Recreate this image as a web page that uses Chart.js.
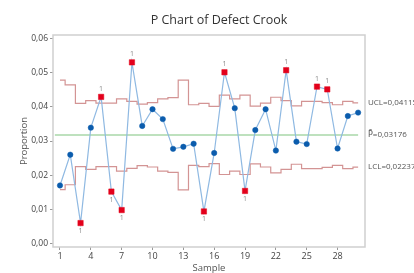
<!DOCTYPE html>
<html>
<head>
<meta charset="utf-8">
<script src="https://cdn.jsdelivr.net/npm/chart.js@4.4.1/dist/chart.umd.min.js"></script>
<style>
html,body{margin:0;padding:0;background:#fff;}
#wrap{width:414px;height:273px;}
</style>
</head>
<body>
<div id="wrap"><canvas id="c" width="414" height="273"></canvas></div>
<script>
// ---- data ----
const samples = [1,2,3,4,5,6,7,8,9,10,11,12,13,14,15,16,17,18,19,20,21,22,23,24,25,26,27,28,29,30];
const proportion = [0.0170,0.0260,0.0060,0.0339,0.0429,0.0152,0.0098,0.0530,0.0344,0.0393,
                    0.0364,0.0277,0.0283,0.0292,0.0094,0.0265,0.0501,0.0396,0.0154,0.0332,
                    0.0393,0.0272,0.0507,0.0298,0.0291,0.0459,0.0451,0.0278,0.0373,0.0383];
const ucl = [0.0478,0.0464,0.0410,0.0418,0.0411,0.0411,0.0423,0.0416,0.0408,0.0412,
             0.0423,0.0427,0.0478,0.0406,0.0410,0.0401,0.0434,0.0423,0.0434,0.0402,
             0.0411,0.0428,0.0418,0.0403,0.0416,0.0416,0.0412,0.0406,0.0416,0.04115];
const lcl = [0.0158,0.0172,0.0225,0.0217,0.0225,0.0225,0.0212,0.0220,0.0228,0.0224,
             0.0212,0.0208,0.0157,0.0229,0.0225,0.0234,0.0202,0.0212,0.0202,0.0233,
             0.0224,0.0207,0.0217,0.0232,0.0219,0.0219,0.0223,0.0229,0.0219,0.02237];
const centerValue = 0.03176;
const centerStart = 0.5, centerEnd = 30;
const outOfControl = [3,5,6,7,8,15,17,19,23,26,27];
const xTickValues = [1,4,7,10,13,16,19,22,25,28];
const yTickValues = [0,0.01,0.02,0.03,0.04,0.05,0.06];
const titleText = 'P Chart of Defect Crook';
const xTitle = 'Sample';
const yTitle = 'Proportion';
const uclLabel = 'UCL=0,04115';
const centerSymbol = 'P\u0304';
const centerLabelValue = '=0,03176';
const lclLabel = 'LCL=0,02237';

// ---- build ----
const FONT = '"Open Sans", "Noto Sans", sans-serif';
const isOut = samples.map(s => outOfControl.includes(s));
const pts = samples.map((s,i) => ({x:s, y:proportion[i]}));

const textPlugin = {
  id:'texts',
  beforeDatasetsDraw(chart){
    const {ctx, chartArea:a} = chart;
    ctx.save();
    ctx.strokeStyle = '#cfcfcf';
    ctx.lineWidth = 1.5;
    ctx.strokeRect(a.left, a.top, a.right-a.left, a.bottom-a.top);
    ctx.restore();
  },
  afterDatasetsDraw(chart){
    const {ctx, chartArea:a, scales} = chart;
    const xs = scales.x, ys = scales.y;
    ctx.save();
    // "1" markers
    ctx.fillStyle = '#8a8a8a';
    ctx.font = '7px ' + FONT;
    ctx.textAlign = 'center';
    ctx.textBaseline = 'middle';
    samples.forEach((s,i)=>{
      if(!isOut[i]) return;
      const px = xs.getPixelForValue(s), py = ys.getPixelForValue(proportion[i]);
      const above = proportion[i] > ucl[i];
      ctx.fillText('1', px, above ? py-8 : py+8);
    });
    // title
    ctx.fillStyle = '#333';
    ctx.font = '12.5px ' + FONT;
    ctx.textAlign = 'center';
    ctx.textBaseline = 'middle';
    ctx.fillText(titleText, 219, 20);
    // axis titles
    ctx.fillStyle = '#555';
    ctx.font = '9.5px ' + FONT;
    ctx.fillText(xTitle, (a.left+a.right)/2, 268);
    ctx.save();
    ctx.translate(24, (a.top+a.bottom)/2);
    ctx.rotate(-Math.PI/2);
    ctx.fillText(yTitle, 0, 0);
    ctx.restore();
    // right labels
    ctx.fillStyle = '#555';
    ctx.textAlign = 'left';
    const lx = a.right + 3;
    ctx.font = '8px "Open Sans", sans-serif';
    ctx.fillText(uclLabel, lx, ys.getPixelForValue(ucl[ucl.length-1]));
    ctx.fillText(lclLabel, lx, ys.getPixelForValue(lcl[lcl.length-1]));
    const cy = ys.getPixelForValue(centerValue);
    ctx.font = '8px "DejaVu Sans", sans-serif';
    ctx.fillText(centerSymbol, lx, cy);
    const w = ctx.measureText(centerSymbol).width;
    ctx.font = '8px "Open Sans", sans-serif';
    ctx.fillText(centerLabelValue, lx + w, cy);
    ctx.restore();
  }
};

new Chart(document.getElementById('c'), {
  type:'scatter',
  data:{
    datasets:[
      {label:'UCL', data:samples.map((s,i)=>({x:s,y:ucl[i]})), showLine:true, stepped:'middle',
       borderColor:'#d39494', borderWidth:1.2, pointRadius:0, order:3},
      {label:'LCL', data:samples.map((s,i)=>({x:s,y:lcl[i]})), showLine:true, stepped:'middle',
       borderColor:'#d39494', borderWidth:1.2, pointRadius:0, order:3},
      {label:'Center', data:[{x:centerStart,y:centerValue},{x:centerEnd,y:centerValue}], showLine:true,
       borderColor:'#7fc47f', borderWidth:1.2, pointRadius:0, order:2},
      {label:'Proportion', data:pts, showLine:true, borderColor:'#8fb9e2', borderWidth:1.2,
       pointStyle: isOut.map(o=>o?'rect':'circle'),
       pointRadius: isOut.map(o=>o?3.8:2.7),
       pointBackgroundColor: isOut.map(o=>o?'#e3001b':'#0b5cad'),
       pointBorderColor: isOut.map(o=>o?'#e3001b':'#0b5cad'),
       pointBorderWidth:0.5, order:1}
    ]
  },
  options:{
    responsive:false, animation:false, events:[],
    layout:{padding:{top:35,right:49,bottom:0,left:0}},
    plugins:{legend:{display:false}, tooltip:{enabled:false}, title:{display:false}},
    scales:{
      x:{type:'linear', min:0.32, max:30.67,
         afterFit(s){ s.height = 26; },
         afterBuildTicks(s){ s.ticks = xTickValues.map(v=>({value:v})); },
         grid:{drawOnChartArea:false, tickLength:3, color:'#999'},
         border:{display:false},
         ticks:{font:{size:9, family:FONT}, color:'#444', padding:1, maxRotation:0, autoSkip:false,
                callback:v=>String(v)}},
      y:{type:'linear', min:-0.001, max:0.061,
         afterFit(s){ s.width = 53; },
         afterBuildTicks(s){ s.ticks = yTickValues.map(v=>({value:v})); },
         grid:{drawOnChartArea:false, tickLength:3, color:'#999'},
         border:{display:false},
         ticks:{font:{size:8.5, family:FONT}, color:'#444', padding:2,
                callback:v=>Number(v).toFixed(2).replace('.', ',')}}
    }
  },
  plugins:[textPlugin]
});
</script>
</body>
</html>
